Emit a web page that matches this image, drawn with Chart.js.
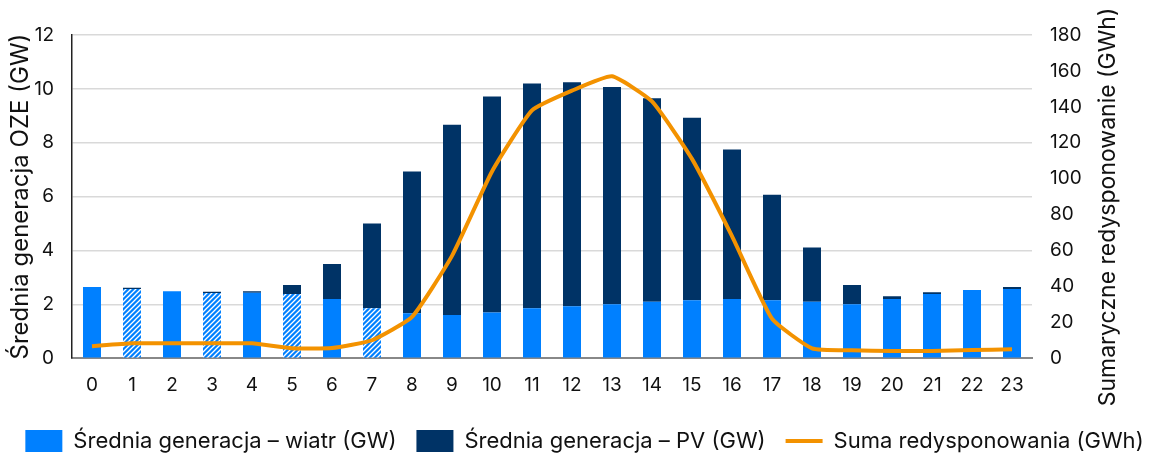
<!DOCTYPE html>
<html>
<head>
<meta charset="utf-8">
<script src="https://cdn.jsdelivr.net/npm/chart.js@4/dist/chart.umd.min.js"></script>
<style>
  html, body { margin: 0; padding: 0; background: #fff; }
  #wrap { width: 1169px; height: 455px; }
</style>
</head>
<body>
<div id="wrap"><canvas id="chart"></canvas></div>
<script>
// hours of the day
const hours = ["0","1","2","3","4","5","6","7","8","9","10","11","12","13","14","15","16","17","18","19","20","21","22","23"];
// average wind generation (GW)
const wind = [2.64,2.57,2.49,2.42,2.43,2.38,2.2,1.85,1.67,1.6,1.7,1.85,1.93,2.0,2.1,2.15,2.2,2.15,2.1,2.0,2.2,2.38,2.53,2.57];
// average PV generation (GW)
const pv = [0.0,0.05,0.0,0.05,0.06,0.34,1.3,3.15,5.26,7.07,8.02,8.35,8.32,8.07,7.55,6.78,5.55,3.92,2.01,0.72,0.1,0.07,0.0,0.07];
// total redispatch (GWh)
const redispatch = [6.7,8.3,8.3,8.3,8.3,5.5,5.7,10,23,57,104,138,149,157,143,111,68,22,5.5,4.4,4,4,4.5,5];
// hours with hatched wind bars
const hatchedHours = [1,3,5,7];
// axis tick labels
const leftTicks = [0,2,4,6,8,10,12];
const rightTicks = [0,20,40,60,80,100,120,140,160,180];

const FONT = "Inter";
const windColor = "#0080FF";
const pvColor = "#003366";
const lineColor = "#F39200";

function hatchPattern() {
    let c = document.createElement("canvas");
    c.width = 5; c.height = 5;
    let g = c.getContext("2d");
    g.fillStyle = windColor;
    g.fillRect(0, 0, 5, 5);
    g.strokeStyle = "#ffffff";
    g.lineWidth = 1.3;
    g.beginPath();
    g.moveTo(0, 5); g.lineTo(5, 0);
    g.moveTo(-2.5, 2.5); g.lineTo(2.5, -2.5);
    g.moveTo(2.5, 7.5); g.lineTo(7.5, 2.5);
    g.stroke();
    return g.createPattern(c, "repeat");
}

let pattern = hatchPattern();
let windColors = hours.map((h, i) => hatchedHours.includes(i) ? pattern : windColor);

// right axis title reads bottom to top, draw it by hand
const rightTitle = {
    id: "rightTitle",
    afterDraw(chart) {
        let ctx = chart.ctx;
        ctx.save();
        ctx.translate(1108, 207);
        ctx.rotate(-Math.PI / 2);
        ctx.font = "23px " + FONT;
        ctx.fillStyle = "#111";
        ctx.textAlign = "center";
        ctx.textBaseline = "middle";
        ctx.fillText("Sumaryczne redysponowanie (GWh)", 0, 0);
        ctx.restore();
    }
};

let ctx1 = document.getElementById("chart");
let chart = new Chart(ctx1, {
    data: {
        labels: hours,
        datasets: [
            {
                type: "bar",
                label: "Średnia generacja – wiatr (GW)",
                data: wind,
                yAxisID: "y",
                backgroundColor: windColors,
                barPercentage: 0.9,
                categoryPercentage: 0.5,
                order: 1,
            },
            {
                type: "bar",
                label: "Średnia generacja – PV (GW)",
                data: pv,
                yAxisID: "y",
                backgroundColor: pvColor,
                barPercentage: 0.9,
                categoryPercentage: 0.5,
                order: 1,
            },
            {
                type: "line",
                label: "Suma redysponowania (GWh)",
                data: redispatch,
                yAxisID: "y1",
                borderColor: lineColor,
                backgroundColor: lineColor,
                borderWidth: 4,
                pointRadius: 0,
                tension: 0.15,
                order: 0,
            },
        ],
    },
    options: {
        responsive: true,
        maintainAspectRatio: false,
        animation: false,
        layout: { padding: { top: 35, right: 0, left: 0, bottom: -7 } },
        plugins: {
            legend: {
                position: "bottom",
                labels: {
                    color: "#111",
                    font: { family: FONT, size: 22 },
                    usePointStyle: true,
                    pointStyleWidth: 37,
                    boxHeight: 22,
                    padding: 20,
                    sort: (a, b) => a.datasetIndex - b.datasetIndex,
                    generateLabels(chart) {
                        let items = Chart.defaults.plugins.legend.labels.generateLabels(chart);
                        items.forEach((it) => {
                            if (it.datasetIndex === 0) it.fillStyle = windColor;
                            if (it.datasetIndex === 2) {
                                it.pointStyle = "line";
                                it.lineWidth = 4;
                                it.strokeStyle = lineColor;
                            } else {
                                it.pointStyle = "rect";
                                it.lineWidth = 0;
                            }
                        });
                        return items;
                    },
                },
            },
            tooltip: { enabled: false },
        },
        scales: {
            x: {
                stacked: true,
                afterFit: (axis) => { axis.height += 5; },
                grid: { display: false },
                border: { color: "#888", width: 2 },
                ticks: { color: "#111", font: { family: FONT, size: 19 }, padding: 8 },
            },
            y: {
                stacked: true,
                position: "left",
                min: 0,
                max: 12,
                afterBuildTicks: (axis) => { axis.ticks = leftTicks.map((v) => ({ value: v })); },
                afterFit: (axis) => { axis.width = 72; },
                grid: { color: "#d9d9d9", lineWidth: 1.5, drawTicks: false },
                border: { color: "#222", width: 1.5 },
                ticks: { color: "#111", font: { family: FONT, size: 19 }, padding: 18 },
                title: {
                    display: true,
                    text: "Średnia generacja OZE (GW)",
                    color: "#111",
                    font: { family: FONT, size: 24 },
                    padding: { top: 6, bottom: 0 },
                },
            },
            y1: {
                position: "right",
                min: 0,
                max: 180,
                afterBuildTicks: (axis) => { axis.ticks = rightTicks.map((v) => ({ value: v })); },
                afterFit: (axis) => { axis.width = 137; },
                grid: { display: false },
                border: { display: false },
                ticks: { color: "#111", font: { family: FONT, size: 19 }, padding: 10 },
            },
        },
    },
    plugins: [rightTitle],
});
</script>
</body>
</html>
